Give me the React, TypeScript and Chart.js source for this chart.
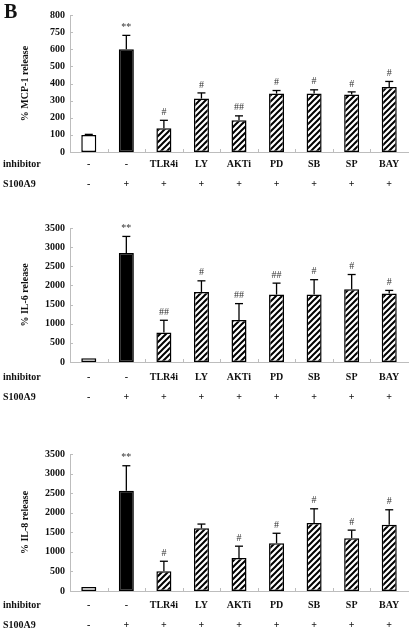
import React, { useEffect, useRef } from 'react';
import { Chart, registerables } from 'chart.js';

Chart.register(...registerables);

// ---------- data ----------
const inhibitorLabels = ['-', '-', 'TLR4i', 'LY', 'AKTi', 'PD', 'SB', 'SP', 'BAY'];
const s100a9Labels = ['-', '+', '+', '+', '+', '+', '+', '+', '+'];

const mcpMean = [100, 600, 138, 312, 185, 341, 341, 336, 380];
const mcpErr = [3, 81, 47, 33, 26, 18, 22, 15, 32];
const mcpSig = ['', '**', '#', '#', '##', '#', '#', '#', '#'];
const mcpTickLabels = ['0', '100', '200', '300', '400', '500', '600', '750', '800'];

const il6Mean = [100, 2850, 770, 1830, 1100, 1760, 1760, 1900, 1790];
const il6Err = [0, 430, 320, 290, 425, 300, 390, 385, 80];
const il6Sig = ['', '**', '##', '#', '##', '##', '#', '#', '#'];
const il6TickLabels = ['0', '500', '1000', '1500', '2000', '2500', '3000', '3500'];

const il8Mean = [100, 2560, 505, 1600, 840, 1220, 1740, 1350, 1690];
const il8Err = [0, 640, 255, 110, 305, 255, 360, 205, 385];
const il8Sig = ['', '**', '#', '', '#', '#', '#', '#', '#'];
const il8TickLabels = ['0', '500', '1000', '1500', '2000', '2500', '3000', '3500'];

const FONT = '"Liberation Serif", "DejaVu Serif", "Times New Roman", serif';

function makeHatch(): CanvasPattern | string {
  const c = document.createElement('canvas');
  c.width = 6;
  c.height = 6;
  const g = c.getContext('2d');
  if (!g) return '#fff';
  g.fillStyle = '#fff';
  g.fillRect(0, 0, 6, 6);
  g.strokeStyle = '#000';
  g.lineWidth = 2;
  g.beginPath();
  g.moveTo(0, 6);
  g.lineTo(6, 0);
  g.moveTo(-3, 3);
  g.lineTo(3, -3);
  g.moveTo(3, 9);
  g.lineTo(9, 3);
  g.stroke();
  const p = g.createPattern(c, 'repeat');
  return p || '#fff';
}

type PanelProps = {
  top: number;
  height: number;
  plotTop: number;
  xAxisHeight: number;
  labelPad: number;
  title: string;
  max: number;
  step: number;
  means: number[];
  errs: number[];
  sigs: string[];
  tickLabels: string[];
};

function Panel(props: PanelProps) {
  const ref = useRef<HTMLCanvasElement>(null);
  useEffect(() => {
    const canvas = ref.current;
    if (!canvas) return;
    const hatch = makeHatch();
    const colors = props.means.map((_, i) => (i === 0 ? '#ffffff' : i === 1 ? '#000000' : hatch));

    const overlay = {
      id: 'overlay',
      afterDatasetsDraw(chart: any) {
        const { ctx, chartArea, scales } = chart;
        const y = scales.y;
        const x = scales.x;
        const meta = chart.getDatasetMeta(0);
        const line = (x1: number, y1: number, x2: number, y2: number) => {
          ctx.beginPath();
          ctx.moveTo(x1, y1);
          ctx.lineTo(x2, y2);
          ctx.stroke();
        };
        ctx.save();
        // inner tick marks
        ctx.strokeStyle = '#bdbdbd';
        ctx.lineWidth = 1;
        y.ticks.forEach((t: any) => {
          const py = Math.round(y.getPixelForValue(t.value)) + 0.5;
          line(chartArea.left, py, chartArea.left + 3, py);
        });
        const n = props.means.length;
        for (let i = 1; i < n; i++) {
          const px = Math.round((x.getPixelForValue(i - 1) + x.getPixelForValue(i)) / 2) + 0.5;
          line(px, chartArea.bottom, px, chartArea.bottom - 3);
        }
        // error bars
        ctx.strokeStyle = '#000';
        ctx.lineWidth = 1.3;
        meta.data.forEach((bar: any, i: number) => {
          const e = props.errs[i];
          const topPx = y.getPixelForValue(props.means[i] + e);
          if (e > 0) {
            line(bar.x, bar.y, bar.x, topPx);
            line(bar.x - 4, topPx, bar.x + 4, topPx);
          }
          const s = props.sigs[i];
          if (s) {
            ctx.fillStyle = '#333';
            ctx.font = `10px ${FONT}`;
            ctx.textAlign = 'center';
            ctx.textBaseline = 'bottom';
            ctx.fillText(s, bar.x, topPx - 3);
          }
        });
        // row labels
        ctx.fillStyle = '#111';
        ctx.font = `bold 10px ${FONT}`;
        ctx.textAlign = 'left';
        ctx.textBaseline = 'middle';
        const ly = x.top + props.labelPad + 10;
        ctx.fillText('inhibitor', 3, ly);
        ctx.fillText('S100A9', 3, ly + 20);
        ctx.restore();
      },
    };

    const chart = new Chart(canvas, {
      type: 'bar',
      data: {
        labels: inhibitorLabels.map((l, i) => [l, s100a9Labels[i]]),
        datasets: [
          {
            data: props.means,
            backgroundColor: colors as any,
            borderColor: '#000',
            borderWidth: 1.5,
            borderSkipped: false,
            categoryPercentage: 1,
            barPercentage: 0.4,
          },
        ],
      },
      options: {
        responsive: false,
        animation: false,
        devicePixelRatio: 1,
        layout: { padding: { left: 0, right: 3, top: props.plotTop, bottom: 0 } },
        plugins: {
          legend: { display: false },
          tooltip: { enabled: false },
        },
        scales: {
          x: {
            grid: { display: false, drawTicks: false },
            border: { display: true, color: '#bdbdbd', width: 1 },
            ticks: {
              autoSkip: false,
              maxRotation: 0,
              minRotation: 0,
              padding: props.labelPad,
              color: '#111',
              font: { family: FONT, size: 10, weight: 'bold', lineHeight: 2 },
            },
            afterFit: (s: any) => {
              s.height = props.xAxisHeight;
            },
          },
          y: {
            min: 0,
            max: props.max,
            grid: { display: false, drawTicks: false },
            border: { display: true, color: '#bdbdbd', width: 1 },
            ticks: {
              stepSize: props.step,
              padding: 5,
              color: '#111',
              font: { family: FONT, size: 10, weight: 'bold' },
              callback: (_v: any, idx: number) => props.tickLabels[idx] ?? '',
            },
            title: {
              display: true,
              text: props.title,
              color: '#111',
              font: { family: FONT, size: 10, weight: 'bold' },
              padding: { top: 19, bottom: 0 },
            },
            afterFit: (s: any) => {
              s.width = 70;
            },
          },
        },
      },
      plugins: [overlay],
    } as any);
    return () => chart.destroy();
  }, []);

  return (
    <div style={{ position: 'absolute', left: 0, top: props.top, width: 411, height: props.height }}>
      <canvas ref={ref} width={411} height={props.height} style={{ display: 'block' }} />
    </div>
  );
}

export default function App() {
  return (
    <div style={{ position: 'absolute', left: 0, top: 0, width: 411, height: 632, background: '#fff', overflow: 'hidden' }}>
      <Panel
        top={0}
        height={195}
        plotTop={15}
        xAxisHeight={43}
        labelPad={2}
        title="% MCP-1 release"
        max={800}
        step={100}
        means={mcpMean}
        errs={mcpErr}
        sigs={mcpSig}
        tickLabels={mcpTickLabels}
      />
      <Panel
        top={200}
        height={205}
        plotTop={28}
        xAxisHeight={43}
        labelPad={5}
        title="% IL-6 release"
        max={3500}
        step={500}
        means={il6Mean}
        errs={il6Err}
        sigs={il6Sig}
        tickLabels={il6TickLabels}
      />
      <Panel
        top={410}
        height={222}
        plotTop={44}
        xAxisHeight={41}
        labelPad={4}
        title="% IL-8 release"
        max={3500}
        step={500}
        means={il8Mean}
        errs={il8Err}
        sigs={il8Sig}
        tickLabels={il8TickLabels}
      />
      <div
        style={{
          position: 'absolute',
          left: 4,
          top: -1,
          fontFamily: FONT,
          fontWeight: 'bold',
          fontSize: 20,
          color: '#111',
          lineHeight: '24px',
        }}
      >
        B
      </div>
    </div>
  );
}
